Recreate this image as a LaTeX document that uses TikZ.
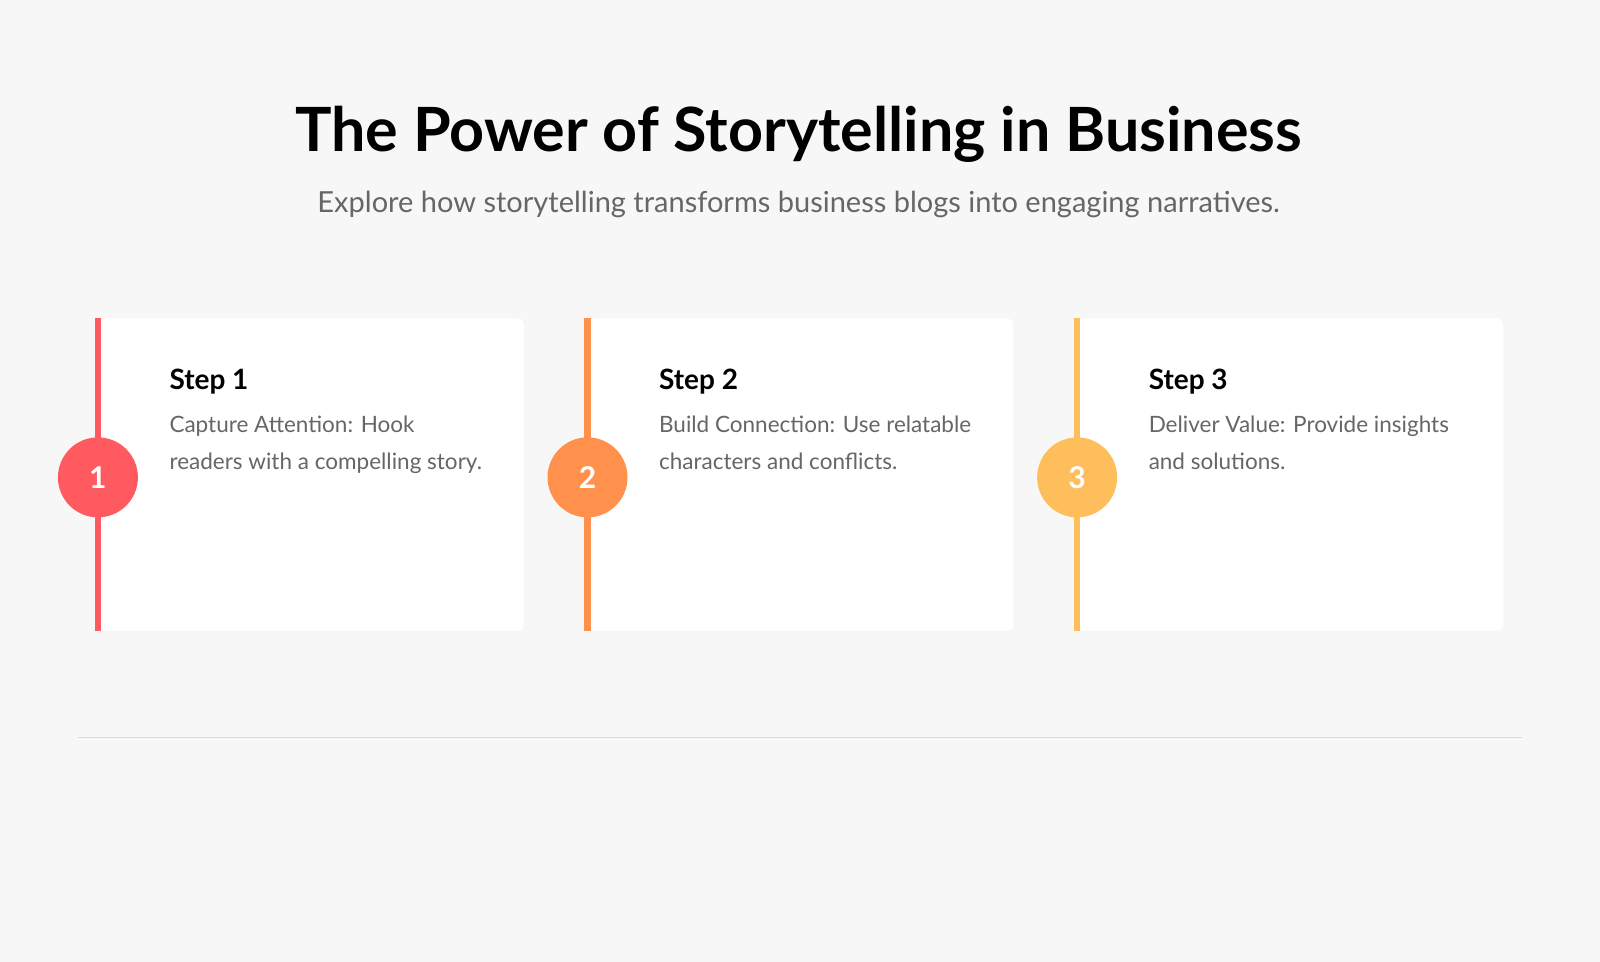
\documentclass[tikz,border=0pt]{standalone}
\usepackage{fontspec}
\setmainfont{Lato}
\definecolor{bg}{HTML}{F7F7F7}
\definecolor{cA}{HTML}{FF5A5F}
\definecolor{cB}{HTML}{FF914D}
\definecolor{cC}{HTML}{FFBE5C}
\definecolor{txt}{HTML}{666666}
\begin{document}
\begin{tikzpicture}[x=1.02pt,y=-1.02pt,
  card/.style={fill=white,draw=black!4,rounded corners=6pt},
  num/.style={circle,minimum size=80pt,inner sep=0pt,text=white,font=\fontsize{30}{30}\selectfont\bfseries},
  steptitle/.style={anchor=base west,inner sep=0pt,font=\fontsize{28}{30}\selectfont\bfseries},
  body/.style={anchor=north west,inner sep=0pt,text=txt,align=left,font=\fontsize{22.5}{37}\selectfont}]
\fill[bg] (0,0) rectangle (1568.6,943.1);
\useasboundingbox (0,0) rectangle (1568.6,943.1);
\node[font=\fontsize{61}{64}\selectfont\bfseries] (title) at (783,132) {The Power of Storytelling in Business};
\node[text=txt,font=\fontsize{29}{32}\selectfont] (sub) at (783,200) {Explore how storytelling transforms business blogs into engaging narratives.};
\foreach \i/\x/\c/\t/\b in {1/96/cA/Step 1/{Capture Attention: Hook\\readers with a compelling story.},
  2/576/cB/Step 2/{Build Connection: Use relatable\\characters and conflicts.},
  3/1056/cC/Step 3/{Deliver Value: Provide insights\\and solutions.}}{
  \draw[card] (\x,312) rectangle (\x+418,619);
  \fill[\c] (\x-3,312) rectangle (\x+3,619);
  \node[num,fill=\c] (n\i) at (\x,468) {\raisebox{-10pt}{\i}};
  \node[steptitle] (s\i) at (\x+70,382) {\t};
  \node[body] (b\i) at (\x+70,408) {\b};
}
\draw[black!15,line width=1.5pt] (76,723) -- (1492,723);
\end{tikzpicture}
\end{document}
